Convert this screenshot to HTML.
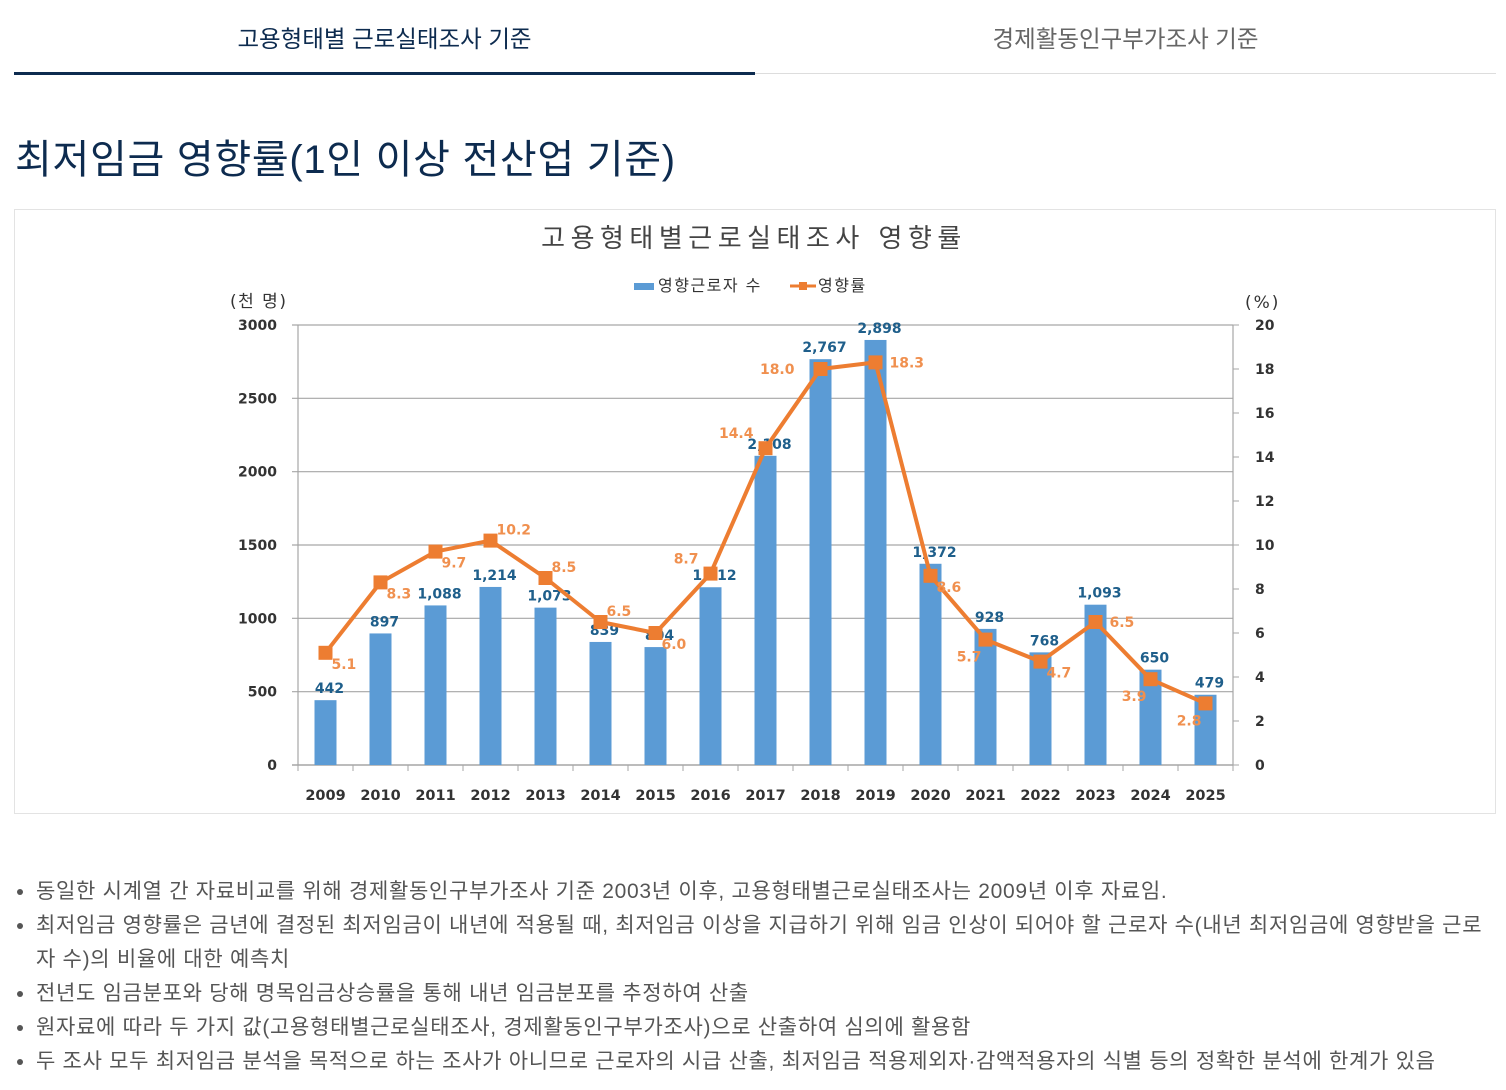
<!DOCTYPE html>
<html lang="ko"><head><meta charset="utf-8">
<style>
body{margin:0;background:#fff;width:1506px;height:1090px;overflow:hidden;font-family:"Liberation Sans","Noto Sans CJK KR",sans-serif;}
.tab{position:absolute;top:20px;font-size:23.5px;text-align:center;}
ul{position:absolute;left:14px;top:875px;margin:0;padding:0 0 0 22px;width:1465px;font-size:21px;letter-spacing:0.7px;color:#555;line-height:34px;word-break:break-all;}
li{padding-left:0;}
</style></head><body>
<div class="tab" style="left:14px;width:741px;color:#0d2b4f;">고용형태별 근로실태조사 기준</div>
<div class="tab" style="left:755px;width:741px;color:#666;">경제활동인구부가조사 기준</div>
<div style="position:absolute;left:14px;top:73px;width:1482px;height:1px;background:#ddd"></div>
<div style="position:absolute;left:14px;top:72px;width:741px;height:3px;background:#0d2b4f"></div>
<div style="position:absolute;left:15px;top:127px;font-size:40px;letter-spacing:0.7px;color:#0d2b4f;">최저임금 영향률(1인 이상 전산업 기준)</div>
<div style="position:absolute;left:14px;top:209px;width:1480px;height:603px;border:1px solid #e3e3e3"></div>
<svg id="chart" width="1506" height="1090" style="position:absolute;left:0;top:0" font-family="'DejaVu Sans','Noto Sans CJK KR',sans-serif"></svg>
<ul>
<li>동일한 시계열 간 자료비교를 위해 경제활동인구부가조사 기준 2003년 이후, 고용형태별근로실태조사는 2009년 이후 자료임.</li>
<li>최저임금 영향률은 금년에 결정된 최저임금이 내년에 적용될 때, 최저임금 이상을 지급하기 위해 임금 인상이 되어야 할 근로자 수(내년 최저임금에 영향받을 근로자 수)의 비율에 대한 예측치</li>
<li>전년도 임금분포와 당해 명목임금상승률을 통해 내년 임금분포를 추정하여 산출</li>
<li>원자료에 따라 두 가지 값(고용형태별근로실태조사, 경제활동인구부가조사)으로 산출하여 심의에 활용함</li>
<li>두 조사 모두 최저임금 분석을 목적으로 하는 조사가 아니므로 근로자의 시급 산출, 최저임금 적용제외자·감액적용자의 식별 등의 정확한 분석에 한계가 있음</li>
</ul>
<script>
const years=['2009','2010','2011','2012','2013','2014','2015','2016','2017','2018','2019','2020','2021','2022','2023','2024','2025'];
const workers=[442,897,1088,1214,1073,839,804,1212,2108,2767,2898,1372,928,768,1093,650,479];
const rates=[5.1,8.3,9.7,10.2,8.5,6.5,6.0,8.7,14.4,18.0,18.3,8.6,5.7,4.7,6.5,3.9,2.8];
const leftTicks=[0,500,1000,1500,2000,2500,3000];
const rightTicks=[0,2,4,6,8,10,12,14,16,18,20];
const rateLabelSide=['rb','rb','rb','ra','ra','ra','rb','la','la','l','r','rb','lb','rb','r','lb','lb'];
const svg=document.getElementById('chart');const NS='http://www.w3.org/2000/svg';
const X0=298,X1=1233,Y0=765,Y1=325;
const band=(X1-X0)/years.length;
const xs=i=>X0+band*(i+0.5);
const yl=v=>Y0-(v/3000)*(Y0-Y1);
const yr=v=>Y0-(v/20)*(Y0-Y1);
function mk(t,a,txt){const e=document.createElementNS(NS,t);for(const k in a)e.setAttribute(k,a[k]);if(txt!==undefined)e.textContent=txt;svg.appendChild(e);return e;}
let e;
e=mk('text',{x:754,y:247,'text-anchor':'middle','font-size':26,fill:'#444','letter-spacing':5.5},'고용형태별근로실태조사 영향률');

e=mk('rect',{x:634,y:283,width:20,height:7,fill:'#5b9bd5'});

e=mk('text',{x:658,y:291,'font-size':16,fill:'#333','letter-spacing':1.5},'영향근로자 수');

e=mk('line',{x1:790,y1:286,x2:816,y2:286,stroke:'#ed7d31','stroke-width':3});

e=mk('rect',{x:799,y:282,width:8,height:8,fill:'#ed7d31'});

e=mk('text',{x:818,y:291,'font-size':16,fill:'#333','letter-spacing':1.5},'영향률');

e=mk('text',{x:230,y:307,'font-size':17,fill:'#333','letter-spacing':1.5},'(천 명)');

e=mk('text',{x:1245,y:308,'font-size':17,fill:'#333','letter-spacing':2},'(%)');

leftTicks.forEach(v=>{const y=yl(v);
 e=mk('line',{x1:X0-6,y1:y,x2:X1,y2:y,stroke:'#a6a6a6','stroke-width':v===0?1.5:1.2});
 
 e=mk('text',{x:277,y:y+5,'text-anchor':'end','font-size':14,'font-weight':'bold',fill:'#333'},String(v));
 });
rightTicks.forEach(v=>{const y=yr(v);
 e=mk('line',{x1:X1,y1:y,x2:X1+6,y2:y,stroke:'#a6a6a6'});
 
 e=mk('text',{x:1255,y:y+5,'font-size':14,'font-weight':'bold',fill:'#333'},String(v));
 });
e=mk('line',{x1:X0,y1:Y1,x2:X0,y2:Y0,stroke:'#a6a6a6','stroke-width':1.2});

e=mk('line',{x1:X1,y1:Y1,x2:X1,y2:Y0,stroke:'#a6a6a6','stroke-width':1.2});

for(let i=0;i<=years.length;i++){e=mk('line',{x1:X0+band*i,y1:Y0,x2:X0+band*i,y2:Y0+6,stroke:'#a6a6a6'});
 }
years.forEach((yv,i)=>{const x=xs(i);
 e=mk('rect',{x:x-11,y:yl(workers[i]),width:22,height:Y0-yl(workers[i]),fill:'#5b9bd5'});
 
 e=mk('text',{x:x,y:800,'text-anchor':'middle','font-size':14.5,'font-weight':'bold',fill:'#333'},yv);
 
 e=mk('text',{x:x+4,y:yl(workers[i])-7,'text-anchor':'middle','font-size':14,'font-weight':'bold',fill:'#1f5f8b'},workers[i].toLocaleString('en-US'));
 });
e=mk('polyline',{points:rates.map((r,i)=>xs(i)+','+yr(r)).join(' '),fill:'none',stroke:'#ed7d31','stroke-width':4,'stroke-linejoin':'round'});

rates.forEach((r,i)=>{const x=xs(i),y=yr(r);
 e=mk('rect',{x:x-7,y:y-7,width:14,height:14,fill:'#ed7d31'});
 
 const s=rateLabelSide[i];let tx=x+6,ty=y+16,anc='start';
 if(s==='ra'){tx=x+6;ty=y-6;} if(s==='la'){tx=x-12;ty=y-10;anc='end';}
 if(s==='l'){tx=x-26;ty=y+5;anc='end';} if(s==='r'){tx=x+14;ty=y+5;}
 if(s==='lb'){tx=x-4;ty=y+22;anc='end';}
 e=mk('text',{x:tx,y:ty,'text-anchor':anc,'font-size':14,'font-weight':'bold',fill:'#f0904f'},r.toFixed(1));
 });
</script>
</body></html>
